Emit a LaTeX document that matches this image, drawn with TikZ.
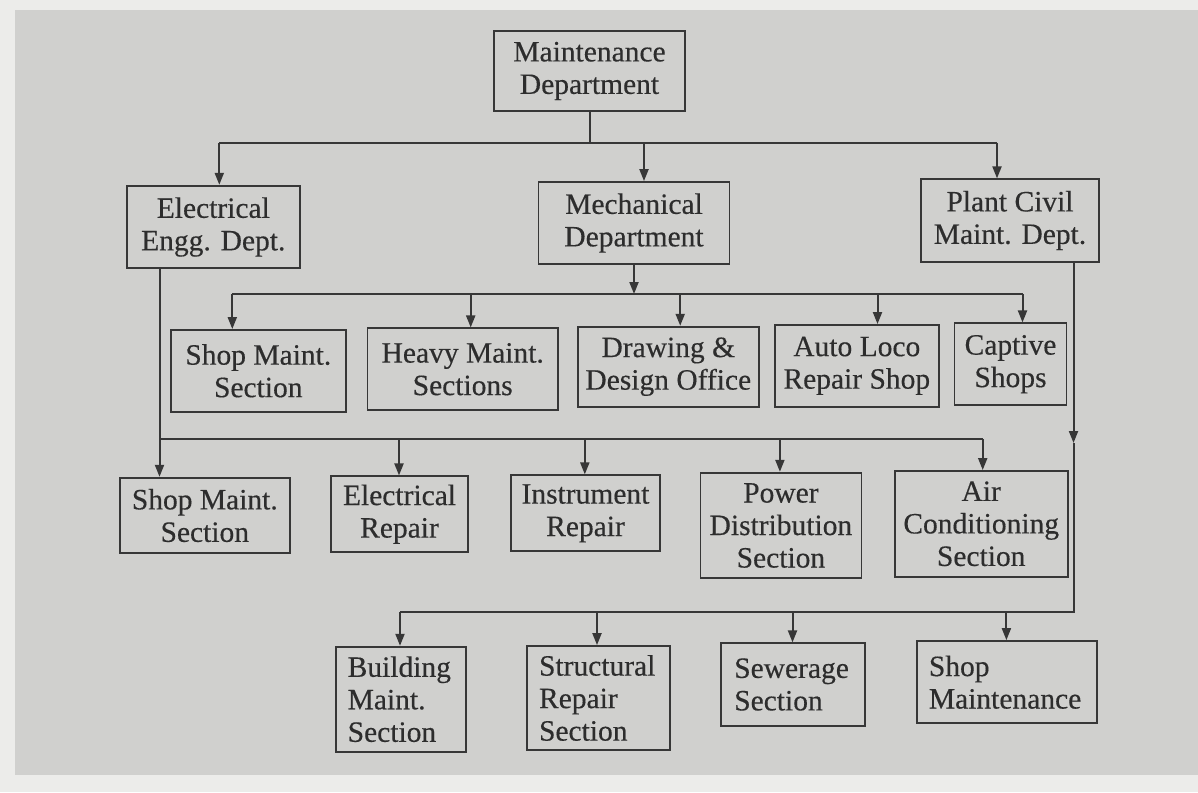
\documentclass[tikz,border=0pt]{standalone}
\usepackage{fontspec}
\setmainfont{Liberation Serif}[FakeBold=0.35]
\usetikzlibrary{arrows.meta}
\definecolor{pagegray}{RGB}{208,208,206}
\definecolor{margincol}{RGB}{236,236,234}
\definecolor{ink}{RGB}{55,55,55}
\definecolor{textink}{RGB}{45,45,45}
\tikzset{
  box/.style={draw=ink, line width=1.8pt, inner sep=0pt, align=center, text=textink,
    font=\fontsize{29.5}{32.5}\selectfont},
  lbox/.style={box, align=left, inner xsep=12pt},
  conn/.style={draw=ink, line width=2pt},
  arr/.style={conn, -{Triangle[length=12pt,width=9pt]}}
}
\begin{document}
\begin{tikzpicture}[x=1pt,y=-1pt]
\fill[margincol] (0,0) rectangle (1198,792);
\fill[pagegray] (15,10) rectangle (1198,775);
\useasboundingbox (0,0) rectangle (1198,792);

% level 0
\node[box, minimum width=191pt, minimum height=80pt] (maint) at (589.5,71) {Maintenance\\Department};
% level 1
\node[box, minimum width=173pt, minimum height=82.6pt] (elec) at (213.3,227) {Electrical\\Engg. Dept.};
\node[box, minimum width=191pt, minimum height=82pt] (mech) at (634,223) {Mechanical\\Department};
\node[box, minimum width=178pt, minimum height=82.4pt] (civil) at (1010,220.5) {Plant Civil\\Maint. Dept.};
% level 2 (mechanical)
\node[box, minimum width=174.6pt, minimum height=81.7pt] (shopA) at (258.3,370.8) {Shop Maint.\\Section};
\node[box, minimum width=190.6pt, minimum height=81.7pt] (heavy) at (462.7,369.2) {Heavy Maint.\\Sections};
\node[box, minimum width=181pt, minimum height=80pt] (drawing) at (668.3,366.7) {Drawing \&\\Design Office};
\node[box, minimum width=163.8pt, minimum height=81.7pt] (auto) at (856.8,365.8) {Auto Loco\\Repair Shop};
\node[box, minimum width=112pt, minimum height=81.7pt] (captive) at (1010.5,364.2) {Captive\\Shops};
% level 3 (electrical)
\node[box, minimum width=170pt, minimum height=75.6pt] (shopB) at (204.8,515.5) {Shop Maint.\\Section};
\node[box, minimum width=136.3pt, minimum height=75.7pt] (elrep) at (399.5,514.2) {Electrical\\Repair};
\node[box, minimum width=149.2pt, minimum height=76pt] (instr) at (585.5,513.3) {Instrument\\Repair};
\node[box, minimum width=161pt, minimum height=105.6pt] (power) at (780.9,525.5) {Power\\Distribution\\Section};
\node[box, minimum width=173pt, minimum height=105.7pt] (air) at (981.2,523.8) {Air\\Conditioning\\Section};
% level 4 (civil)
\node[lbox, text width=106pt, minimum height=105pt] (build) at (400.7,699.2) {Building\\Maint.\\Section};
\node[lbox, text width=118.7pt, minimum height=104pt] (struct) at (598.4,698) {Structural\\Repair\\Section};
\node[lbox, text width=117.5pt, minimum height=82.4pt, inner xsep=13pt] (sewer) at (793,684.5) {Sewerage\\Section};
\node[lbox, text width=155.8pt, minimum height=82.3pt] (shopM) at (1006.8,682.2) {Shop\\Maintenance};

% bus from Maintenance Department
\coordinate (b0) at (589.5,142.5);
\coordinate (b0L) at (219.3,142.5);
\coordinate (b0M) at (644,142.5);
\coordinate (b0R) at (997,142.5);
\draw[conn] (maint.south) -- (b0);
\draw[conn] (b0L) -- (b0R);
\draw[arr] (b0L) -- (b0L |- elec.north);
\draw[arr] (b0M) -- (b0M |- mech.north);
\draw[arr] (b0R) -- (b0R |- civil.north);

% bus from Mechanical Department
\coordinate (b1) at (634,294);
\coordinate (b1a) at (232.3,294);
\coordinate (b1b) at (470.7,294);
\coordinate (b1c) at (680.2,294);
\coordinate (b1d) at (877.5,294);
\coordinate (b1e) at (1022.5,294);
\draw[arr] (mech.south) -- (b1);
\draw[conn] (b1a) -- (b1e);
\draw[arr] (b1a) -- (b1a |- shopA.north);
\draw[arr] (b1b) -- (b1b |- heavy.north);
\draw[arr] (b1c) -- (b1c |- drawing.north);
\draw[arr] (b1d) -- (b1d |- auto.north);
\draw[arr] (b1e) -- (b1e |- captive.north);

% bus from Electrical Engg. Dept.
\coordinate (b2a) at (159.5,439);
\coordinate (b2b) at (399,439);
\coordinate (b2c) at (584.8,439);
\coordinate (b2d) at (779.9,439);
\coordinate (b2e) at (982.7,439);
\draw[arr] (b2a |- elec.south) -- (b2a |- shopB.north);
\draw[conn] (b2a) -- (b2e);
\draw[arr] (b2b) -- (b2b |- elrep.north);
\draw[arr] (b2c) -- (b2c |- instr.north);
\draw[arr] (b2d) -- (b2d |- power.north);
\draw[arr] (b2e) -- (b2e |- air.north);

% bus from Plant Civil Maint. Dept.
\coordinate (c1) at (1073.5,443);
\coordinate (b3R) at (1073.5,612);
\coordinate (b3a) at (400,612);
\coordinate (b3b) at (597,612);
\coordinate (b3c) at (792.5,612);
\coordinate (b3d) at (1006.4,612);
\draw[arr] (c1 |- civil.south) -- (c1);
\draw[conn] (c1) -- (b3R) -- (b3a);
\draw[arr] (b3a) -- (b3a |- build.north);
\draw[arr] (b3b) -- (b3b |- struct.north);
\draw[arr] (b3c) -- (b3c |- sewer.north);
\draw[arr] (b3d) -- (b3d |- shopM.north);
\end{tikzpicture}
\end{document}
